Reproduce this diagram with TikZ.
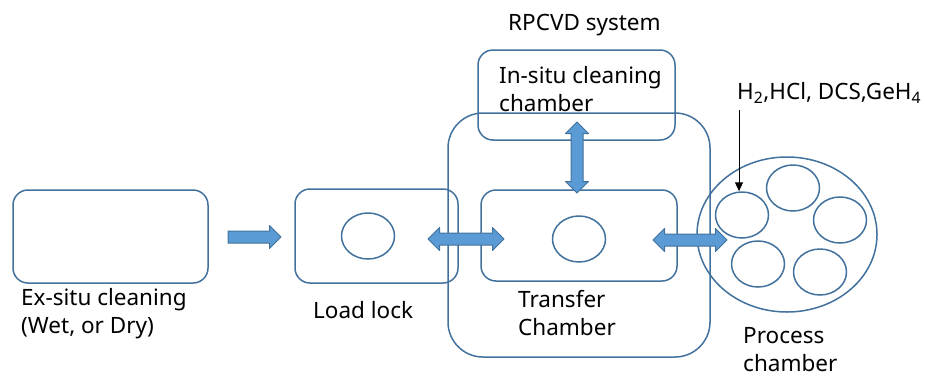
\documentclass[tikz,border=0pt]{standalone}
\usepackage{fontspec}
\setmainfont{Noto Sans}
\usepackage{tikz}
\usetikzlibrary{shapes.geometric,shapes.arrows,arrows.meta,calc}

\definecolor{edgeblue}{HTML}{41719C}
\definecolor{fillblue}{HTML}{5B9BD5}

\begin{document}
\begin{tikzpicture}[x=1pt,y=-1pt,line join=round]
	\tikzset{box/.style={draw=edgeblue,line width=1.5pt,rounded corners=15pt,inner sep=0pt}};
	\tikzset{wafer/.style={ellipse,draw=edgeblue,line width=1.5pt,minimum width=53pt,minimum height=46pt,inner sep=0pt}};
	\tikzset{lbl/.style={anchor=west,align=left,inner sep=0pt,font=\fontsize{22.5}{28}\selectfont}};
	\tikzset{fatarrow/.style={single arrow,draw=edgeblue,fill=fillblue,line width=1pt,inner sep=5.5pt,single arrow head extend=5.5pt}};
	\tikzset{dblarrow/.style={double arrow,draw=edgeblue,fill=fillblue,line width=1pt,inner sep=5.5pt,double arrow head extend=5.5pt}};
	\useasboundingbox (0,0) rectangle (925,378);

	% outer transfer chamber body
	\node[box,rounded corners=35pt,minimum width=262pt,minimum height=244pt] (tcbody) at (579,235) {};

	% chambers
	\node[box,minimum width=195pt,minimum height=93pt] (exsitu) at (110.5,236.5) {};
	\node[box,minimum width=163pt,minimum height=94pt] (loadlock) at (376.5,236) {};
	\node[box,minimum width=196pt,minimum height=91pt] (transfer) at (579,235.5) {};
	\node[box,minimum width=197pt,minimum height=90pt] (insitu) at (576.5,95) {};
	\node[ellipse,draw=edgeblue,line width=1.5pt,minimum width=180pt,minimum height=155pt,inner sep=0pt] (process) at (787,234.5) {};

	% wafers
	\node[wafer] (llwafer) at (368,236) {};
	\node[wafer] (tcwafer) at (579,239) {};
	\node[wafer] (w1) at (742,215) {};
	\node[wafer] (w2) at (793,188) {};
	\node[wafer] (w3) at (840,220) {};
	\node[wafer] (w4) at (758,264) {};
	\node[wafer] (w5) at (820,272) {};

	% transport arrows
	\node[fatarrow,minimum height=53pt] (load) at (251.5,237) {};
	\node[dblarrow,minimum height=76pt] (lltc) at (466,239) {};
	\node[dblarrow,minimum height=74pt] (tcpc) at (690,240) {};
	\node[dblarrow,minimum height=71pt,rotate=90] (tcis) at (577,157.5) {};

	% labels
	\node[lbl] (exlabel) at (21,314) {Ex-situ cleaning\\(Wet, or Dry)};
	\node[lbl] (lllabel) at (313,310) {Load lock};
	\node[lbl] (tclabel) at (518,312.5) {Transfer\\Chamber};
	\node[lbl] (islabel) at (499,89) {In-situ cleaning\\chamber};
	\node[lbl] (syslabel) at (508,25) {RPCVD system};
	\node[lbl] (pclabel) at (743,350) {Process\\chamber};
	\node[lbl] (gases) at (737,93) {H\textsubscript{2},HCl, DCS,GeH\textsubscript{4}};

	% gas inlet
	\coordinate (gasin) at (739,110);
	\draw[line width=1pt,-{Triangle[length=9pt,width=8pt]}] (gasin) -- (gasin |- w1.north);
\end{tikzpicture}
\end{document}
